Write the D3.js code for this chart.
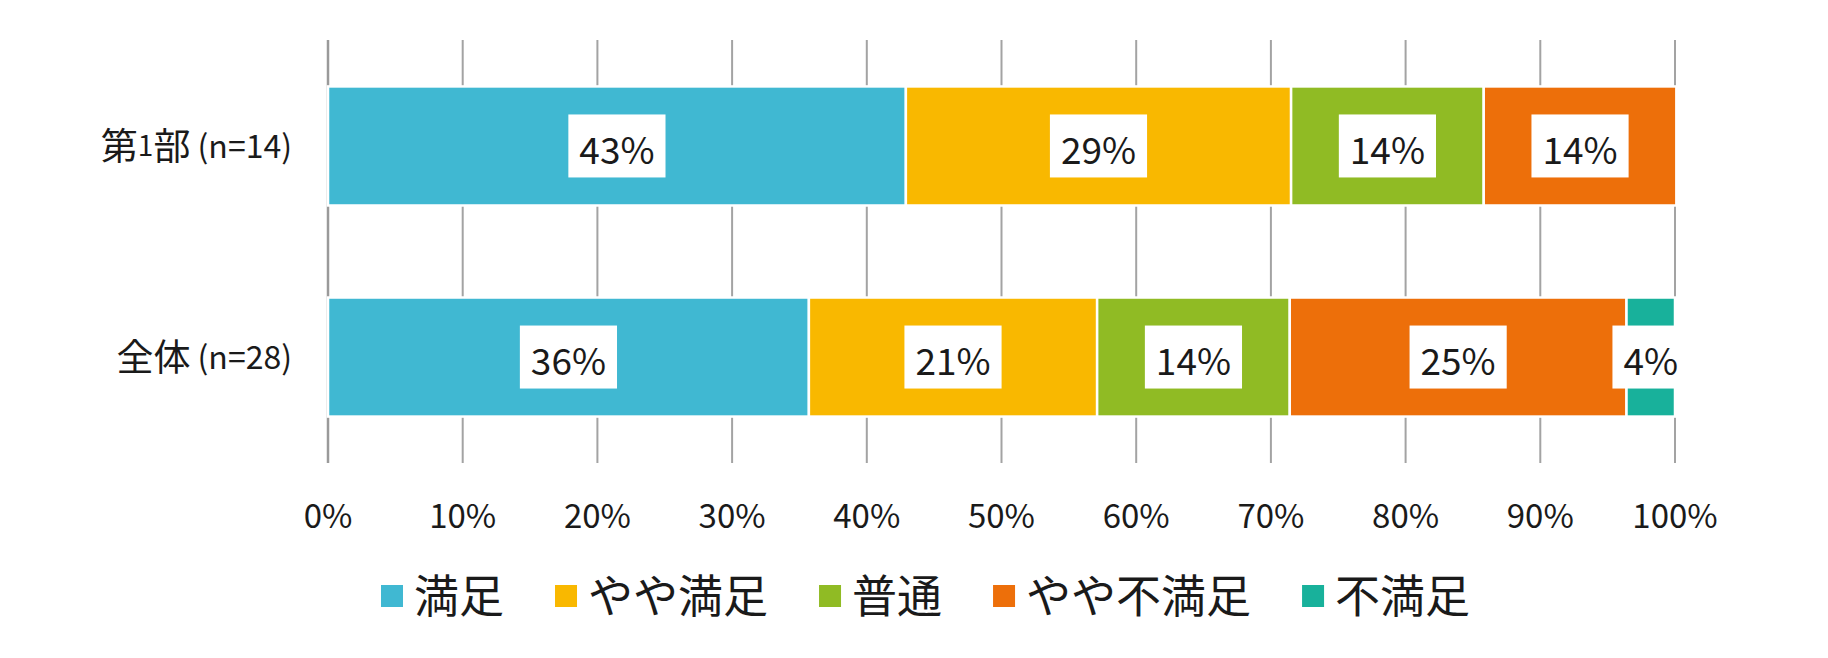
<!DOCTYPE html>
<html>
<head>
<meta charset="utf-8">
<script src="https://cdn.jsdelivr.net/npm/d3@7"></script>
<style>
  html, body { margin: 0; padding: 0; background: #ffffff; }
  svg { display: block; }
</style>
</head>
<body>
<svg id="chart" width="1828" height="658"></svg>
<script>
// ---- Data ----
const categories = ["第1部", "全体"];
const categoryN = ["(n=14)", "(n=28)"];
const seriesNames = ["満足", "やや満足", "普通", "やや不満足", "不満足"];
const seriesColors = ["#40B8D2", "#F9B800", "#90BB24", "#ED6F0A", "#18B19B"];
// percentage values per category (第1部, 全体)
const satisfied        = [42.9, 35.7];
const somewhatSatisfied = [28.6, 21.4];
const neutral          = [14.3, 14.3];
const somewhatUnsat    = [14.3, 25.0];
const unsatisfied      = [0.0, 3.6];
const tickValues = [0, 10, 20, 30, 40, 50, 60, 70, 80, 90, 100];

const seriesValues = [satisfied, somewhatSatisfied, neutral, somewhatUnsat, unsatisfied];

// ---- Layout ----
const svg = d3.select("#chart");
const FONT = "'Noto Sans CJK JP', 'Noto Sans', sans-serif";
const x = d3.scaleLinear().domain([0, 100]).range([328, 1675]);
const y = d3.scaleBand().domain(categories).range([40, 463]).paddingInner(0.436).paddingOuter(0.22);

// grid lines
svg.append("g").selectAll("line").data(tickValues).join("line")
  .attr("x1", d => x(d)).attr("x2", d => x(d))
  .attr("y1", 40).attr("y2", 463)
  .attr("stroke", d => d === 0 ? "#9a9a9a" : "#a3a3a3")
  .attr("stroke-width", d => d === 0 ? 2.5 : 2);

// tick labels
svg.append("g").selectAll("text").data(tickValues).join("text")
  .attr("x", d => x(d)).attr("y", 514)
  .attr("text-anchor", "middle").attr("dominant-baseline", "central")
  .attr("font-family", FONT).attr("font-size", 33).attr("fill", "#1a1a1a")
  .text(d => d + "%");

// stacked data
const rows = categories.map((c, i) => {
  const r = { cat: c };
  seriesNames.forEach((s, j) => r[s] = seriesValues[j][i]);
  return r;
});
const stack = d3.stack().keys(seriesNames)(rows);

const segs = [];
stack.forEach((layer, j) => {
  layer.forEach(d => {
    segs.push({ key: layer.key, j, cat: d.data.cat, x0: d[0], x1: d[1], v: d.data[layer.key] });
  });
});

const barG = svg.append("g");
barG.selectAll("rect").data(segs.filter(d => d.v > 0)).join("rect")
  .attr("x", d => x(d.x0)).attr("width", d => x(d.x1) - x(d.x0))
  .attr("y", d => y(d.cat)).attr("height", y.bandwidth())
  .attr("fill", d => seriesColors[d.j])
  .attr("stroke", "#ffffff").attr("stroke-width", 2.5);

// data labels with white boxes
const lblG = svg.append("g");
segs.filter(d => d.v > 0).forEach(d => {
  const cx = (x(d.x0) + x(d.x1)) / 2;
  const cy = y(d.cat) + y.bandwidth() / 2;
  const g = lblG.append("g");
  const rect = g.append("rect").attr("fill", "#ffffff");
  const t = g.append("text")
    .attr("x", cx).attr("y", cy + 2)
    .attr("text-anchor", "middle").attr("dominant-baseline", "central")
    .attr("font-family", FONT).attr("font-size", 37).attr("fill", "#1a1a1a")
    .text(Math.round(d.v) + "%");
  const w = t.node().getComputedTextLength();
  rect.attr("x", cx - w / 2 - 11).attr("width", w + 22)
    .attr("y", cy - 31.5).attr("height", 63);
});

// category labels
const catG = svg.append("g");
categories.forEach((c, i) => {
  const t = catG.append("text")
    .attr("x", 292).attr("y", y(c) + y.bandwidth() / 2 - 2)
    .attr("text-anchor", "end").attr("dominant-baseline", "central")
    .attr("font-family", FONT).attr("fill", "#1a1a1a");
  // render digits smaller like the original
  const parts = c.split(/(\d+)/).filter(p => p.length);
  parts.forEach(p => {
    t.append("tspan").attr("font-size", /\d/.test(p) ? 28 : 37).text(p);
  });
  t.append("tspan").attr("font-size", 32).text(" " + categoryN[i]);
});

// legend
const legG = svg.append("g");
let cursor = 381;
seriesNames.forEach((s, j) => {
  legG.append("rect").attr("x", cursor).attr("y", 585).attr("width", 22).attr("height", 22)
    .attr("fill", seriesColors[j]);
  const t = legG.append("text")
    .attr("x", cursor + 33).attr("y", 593)
    .attr("dominant-baseline", "central")
    .attr("font-family", FONT).attr("font-size", 45).attr("fill", "#1a1a1a")
    .text(s);
  cursor += 33 + t.node().getComputedTextLength() + 51;
});
</script>
</body>
</html>
